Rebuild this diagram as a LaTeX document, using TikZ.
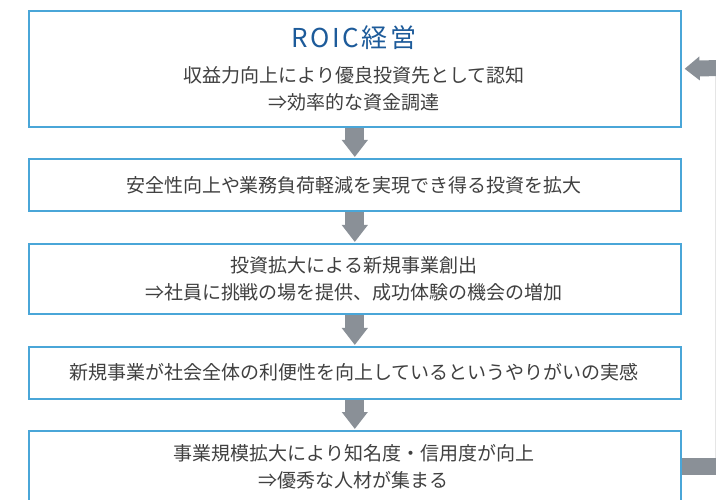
\documentclass[tikz,border=0pt]{standalone}
\usepackage{fontspec}
\newfontfamily\jp{Noto Sans CJK JP}
\newfontfamily\jpt[LetterSpace=10]{Noto Sans CJK JP}
\usetikzlibrary{arrows.meta}
\definecolor{boxblue}{HTML}{4AA6D8}
\definecolor{arrgray}{HTML}{8A9097}
\definecolor{txt}{HTML}{404040}
\definecolor{ttl}{HTML}{1D5B9A}
\tikzset{
  stage/.style={draw=boxblue, line width=1.6pt, fill=white, minimum width=652pt, inner sep=0pt, anchor=north west},
  body/.style={text=txt, font=\jp\fontsize{19}{27.5}\selectfont, align=center, inner sep=0pt},
  downarr/.style={arrgray, line width=19pt, -{Triangle[length=17pt, width=25pt]}},
  backarr/.style={arrgray, line width=16pt, -{Triangle[length=15pt, width=23pt]}},
  backbar/.style={arrgray, line width=17pt},
}
\begin{document}
\begin{tikzpicture}[x=1pt, y=-1pt]
\useasboundingbox (0,0) rectangle (716,500);
% faint vertical guide at right edge
\coordinate (vtop) at (715,60);
\coordinate (vbot) at (715,466);
\draw[black!10, line width=1pt] (vtop) -- (vbot);
% boxes
\node[stage, minimum height=116pt] (b1) at (28,10) {};
\node[stage, minimum height=52pt] (b2) at (28,158) {};
\node[stage, minimum height=70pt] (b3) at (28,243) {};
\node[stage, minimum height=52pt] (b4) at (28,346) {};
\node[stage, minimum height=72pt] (b5) at (28,430) {};
% texts
\node[text=ttl, font=\jpt\fontsize{26}{30}\selectfont, inner sep=0pt] (t1) at (354,38) {ROIC経営};
\node[body] (t1b) at (354,89) {収益力向上により優良投資先として認知\\⇒効率的な資金調達};
\node[body] (t2) at (354,185) {安全性向上や業務負荷軽減を実現でき得る投資を拡大};
\node[body] (t3) at (354,279) {投資拡大による新規事業創出\\⇒社員に挑戦の場を提供、成功体験の機会の増加};
\node[body] (t4) at (354,372) {新規事業が社会全体の利便性を向上しているというやりがいの実感};
\node[body] (t5) at (354,467) {事業規模拡大により知名度・信用度が向上\\⇒優秀な人材が集まる};
% down arrows
\draw[downarr] ([yshift=-0.8pt]b1.south) -- ([yshift=1pt]b2.north);
\draw[downarr] ([yshift=-0.8pt]b2.south) -- ([yshift=1pt]b3.north);
\draw[downarr] ([yshift=-0.8pt]b3.south) -- ([yshift=1pt]b4.north);
\draw[downarr] ([yshift=-0.8pt]b4.south) -- ([yshift=1pt]b5.north);
% feedback
\coordinate (fbb) at (720,466);
\coordinate (fbt) at (720,68);
\draw[backbar] ([xshift=0.8pt]b5.east |- fbb) -- (fbb);
\draw[backarr] (fbt) -- ([xshift=3pt]b1.east);
\end{tikzpicture}
\end{document}
